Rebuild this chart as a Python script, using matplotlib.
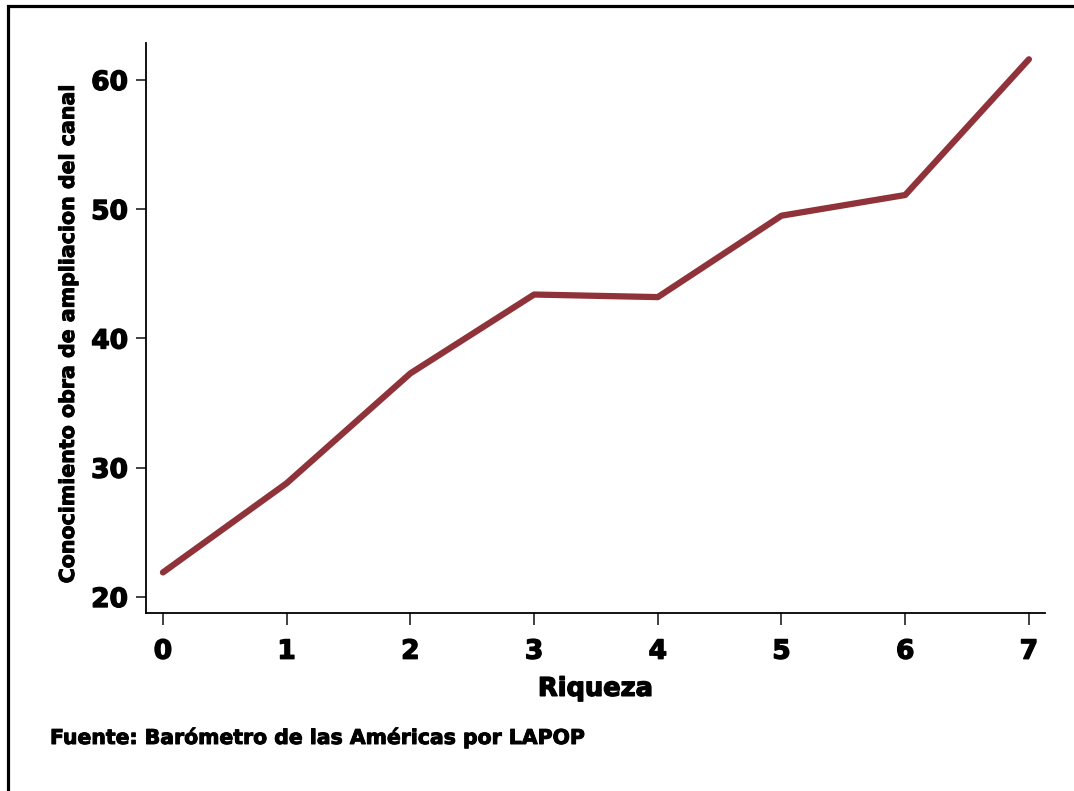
import matplotlib
matplotlib.use('Agg')
import matplotlib.pyplot as plt
import matplotlib.patheffects as pe
from matplotlib.patches import Rectangle

riqueza = [0, 1, 2, 3, 4, 5, 6, 7]
conocimiento = [21.9, 28.8, 37.3, 43.4, 43.2, 49.5, 51.1, 61.6]
yticks = [20, 30, 40, 50, 60]

plt.rcParams['font.family'] = ['DejaVu Sans']
plt.rcParams['font.weight'] = 'bold'

heavy = [pe.withStroke(linewidth=1.0, foreground='black')]

fig = plt.figure(figsize=(10.74, 7.91), dpi=100)
ax = fig.add_axes([146/1074, 1-613/791, (1045-146)/1074, (613-43)/791])

ax.plot(riqueza, conocimiento, color='#8f3239', lw=4.5, solid_capstyle='round')

ax.set_xlim(-0.137, 7.13)
ax.set_ylim(18.76, 62.86)
ax.set_xticks(riqueza)
ax.set_yticks(yticks)
ax.spines['top'].set_visible(False)
ax.spines['right'].set_visible(False)
for s in ['left', 'bottom']:
    ax.spines[s].set_linewidth(1.3)
ax.tick_params(width=1.3, color='#333333', labelsize=19)
ax.tick_params(axis='x', length=8.5, pad=10)
ax.tick_params(axis='y', length=7, pad=6)
for lab in ax.get_xticklabels() + ax.get_yticklabels():
    lab.set_fontweight('bold')
    lab.set_path_effects(heavy)

ax.set_xlabel('Riqueza', fontsize=18.5, fontweight='bold', labelpad=8,
              path_effects=heavy)
fig.text(68/1074, 1-334/791, 'Conocimiento obra de ampliacion del canal',
         rotation=90, ha='center', va='center', fontsize=14.8, fontweight='bold',
         path_effects=[pe.withStroke(linewidth=0.7, foreground='black')])
fig.text(50/1074, 1-738/791, 'Fuente: Barómetro de las Américas por LAPOP',
         ha='left', va='center', fontsize=14.7, fontweight='bold',
         path_effects=[pe.withStroke(linewidth=0.7, foreground='black')])

fig.patches.append(Rectangle((8/1074, -0.1), 1.2, 1-6/791+0.1, transform=fig.transFigure,
                             fill=False, ec='black', lw=2.3))

fig.savefig('out.png', dpi=100)
